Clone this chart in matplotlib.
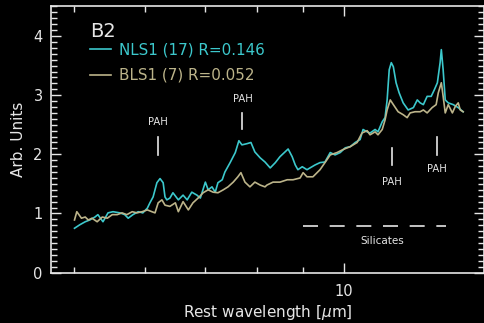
import numpy as np
import matplotlib
matplotlib.use("Agg")
import matplotlib.pyplot as plt
from matplotlib.ticker import FixedLocator, NullFormatter, MultipleLocator

#mean spectra (wavelength in micron, arbitrary units)
nls1_wave = [5.00, 5.07, 5.14, 5.20, 5.27, 5.31, 5.38, 5.45, 5.52, 5.62, 5.69, 5.74,
             5.81, 5.89, 5.96, 6.03, 6.07, 6.12, 6.18, 6.23, 6.28, 6.31, 6.34, 6.39,
             6.44, 6.53, 6.61, 6.68, 6.76, 6.85, 6.91, 7.00, 7.05, 7.12, 7.18, 7.23,
             7.31, 7.36, 7.46, 7.56, 7.63, 7.69, 7.79, 7.87, 7.95, 8.06, 8.16, 8.27,
             8.38, 8.48, 8.59, 8.66, 8.75, 8.82, 8.88, 8.98, 9.09, 9.16, 9.28, 9.40,
             9.52, 9.65, 9.77, 9.90, 10.03, 10.16, 10.29, 10.42, 10.50, 10.61, 10.69,
             10.83, 10.91, 11.03, 11.11, 11.17, 11.23, 11.29, 11.35, 11.43, 11.52,
             11.64, 11.79, 11.95, 12.07, 12.16, 12.26, 12.38, 12.51, 12.61, 12.71,
             12.80, 12.84, 12.90, 12.97, 13.07, 13.24, 13.41, 13.58]
nls1_flux = [0.75, 0.81, 0.86, 0.89, 0.94, 0.98, 0.86, 1.01, 1.03, 1.01, 0.98, 0.92,
             0.98, 1.03, 1.01, 1.09, 1.18, 1.28, 1.52, 1.59, 1.52, 1.28, 1.23, 1.26,
             1.35, 1.23, 1.31, 1.23, 1.36, 1.31, 1.26, 1.53, 1.40, 1.45, 1.36, 1.52,
             1.57, 1.70, 1.86, 2.03, 2.23, 2.16, 2.18, 2.20, 2.04, 1.94, 1.87, 1.77,
             1.86, 1.96, 2.04, 2.09, 1.96, 1.82, 1.74, 1.79, 1.74, 1.77, 1.82, 1.86,
             1.87, 2.03, 1.99, 2.03, 2.11, 2.13, 2.20, 2.25, 2.42, 2.38, 2.36,
             2.42, 2.38, 2.55, 2.62, 2.92, 3.43, 3.55, 3.48, 3.21, 3.04,
             2.87, 2.75, 2.79, 2.92, 2.87, 2.84, 2.98, 2.98, 3.09, 3.21,
             3.55, 3.77, 3.43, 2.92, 2.87, 2.84, 2.79, 2.72]

bls1_wave = [5.00, 5.03, 5.09, 5.14, 5.18, 5.23, 5.30, 5.37, 5.44, 5.51, 5.58, 5.65,
             5.72, 5.80, 5.87, 5.95, 6.03, 6.10, 6.15, 6.20, 6.26, 6.31, 6.39, 6.48,
             6.53, 6.61, 6.70, 6.78, 6.87, 6.96, 7.05, 7.14, 7.23, 7.33, 7.42, 7.52,
             7.61, 7.67, 7.75, 7.85, 7.95, 8.06, 8.16, 8.20, 8.33, 8.48, 8.64, 8.77,
             8.93, 9.00, 9.09, 9.23, 9.40, 9.52, 9.65, 9.82, 9.97, 10.16, 10.34,
             10.47, 10.61, 10.69, 10.83, 10.91, 11.03, 11.11, 11.17, 11.26, 11.35,
             11.49, 11.64, 11.76, 11.85, 12.00, 12.16, 12.26, 12.38, 12.54, 12.67,
             12.74, 12.84, 12.90, 12.97, 13.07, 13.21, 13.31, 13.41, 13.48, 13.58]
bls1_flux = [0.89, 1.03, 0.92, 0.94, 0.89, 0.92, 0.86, 0.94, 0.92, 0.98, 0.98, 1.01,
             0.98, 1.03, 1.01, 1.03, 1.06, 1.03, 1.01, 1.18, 1.23, 1.14, 1.12, 1.18,
             1.03, 1.20, 1.06, 1.18, 1.26, 1.35, 1.40, 1.36, 1.35, 1.40, 1.45, 1.53,
             1.62, 1.69, 1.53, 1.45, 1.53, 1.48, 1.45, 1.48, 1.53, 1.53, 1.57, 1.57,
             1.60, 1.69, 1.62, 1.62, 1.74, 1.86, 1.99, 2.03, 2.08, 2.13, 2.20,
             2.36, 2.40, 2.33, 2.38, 2.33, 2.42, 2.58, 2.75, 2.92, 2.84,
             2.72, 2.67, 2.62, 2.70, 2.72, 2.72, 2.75, 2.70, 2.79, 2.84,
             3.04, 3.21, 2.98, 2.70, 2.84, 2.70, 2.81, 2.87, 2.75, 2.72]

labels = ["NLS1 (17) R=0.146", "BLS1 (7) R=0.052"]
panel = "B2"

#PAH features: wavelength, bottom/top of marker, label height
pah_wave = [6.2, 7.7, 11.3, 12.7]
pah_lo = [1.99, 2.42, 1.82, 1.99]
pah_hi = [2.30, 2.70, 2.11, 2.30]
pah_text_y = [2.55, 2.94, 1.53, 1.75]

sil_range = [9.0, 13.0]
sil_level = 0.79

fg = "#e6e6e6"
cyan = "#3cc8cc"
tan = "#bcb48a"

plt.rcParams["font.family"] = "DejaVu Sans"
fig = plt.figure(figsize=(4.85, 3.23), dpi=100, facecolor="black")
ax = fig.add_axes([0.105, 0.156, 0.893, 0.824], facecolor="black")

ax.plot(nls1_wave, nls1_flux, color=cyan, lw=1.2, label=labels[0])
ax.plot(bls1_wave, bls1_flux, color=tan, lw=1.2, label=labels[1])

for w, lo, hi, ty in zip(pah_wave, pah_lo, pah_hi, pah_text_y):
    ax.plot([w, w], [lo, hi], color=fg, lw=1.2)
    ax.text(w, ty, "PAH", color=fg, fontsize=7.2, ha="center", va="center")

ax.plot(sil_range, [sil_level, sil_level], color=fg, lw=1.2, dashes=(9, 7))
ax.text(11.03, 0.53, "Silicates", color=fg, fontsize=7.5, ha="center", va="center")

ax.text(0.09, 0.905, panel, transform=ax.transAxes, color=fg, fontsize=14,
        ha="left", va="center")

leg = ax.legend(loc="upper left", bbox_to_anchor=(0.09, 0.865), frameon=False,
                fontsize=10.9, handlelength=1.4, handletextpad=0.5,
                labelspacing=0.7, borderpad=0, borderaxespad=0,
                labelcolor="linecolor")

ax.set_xscale("log")
ax.set_xlim(4.706, 14.33)
ax.set_ylim(0, 4.5)

ax.xaxis.set_major_locator(FixedLocator([10]))
ax.xaxis.set_major_formatter(matplotlib.ticker.FixedFormatter(["10"]))
ax.xaxis.set_minor_locator(FixedLocator([5, 6, 7, 8, 9]))
ax.xaxis.set_minor_formatter(NullFormatter())
ax.yaxis.set_major_locator(MultipleLocator(1))
ax.yaxis.set_minor_locator(MultipleLocator(0.1))

ax.tick_params(which="both", direction="in", top=True, right=True, colors=fg,
               labelsize=10.5, width=1)
ax.tick_params(which="major", length=7)
ax.tick_params(axis="x", which="major", pad=8)
ax.tick_params(axis="y", which="major", pad=6)
ax.tick_params(which="minor", length=4)
for s in ax.spines.values():
    s.set_color(fg)
    s.set_linewidth(1.2)

ax.set_xlabel("Rest wavelength [$\\mu$m]", color=fg, fontsize=11, labelpad=3)
ax.set_ylabel("Arb. Units", color=fg, fontsize=11, labelpad=5)

fig.savefig("out.png", dpi=100, facecolor="black")
